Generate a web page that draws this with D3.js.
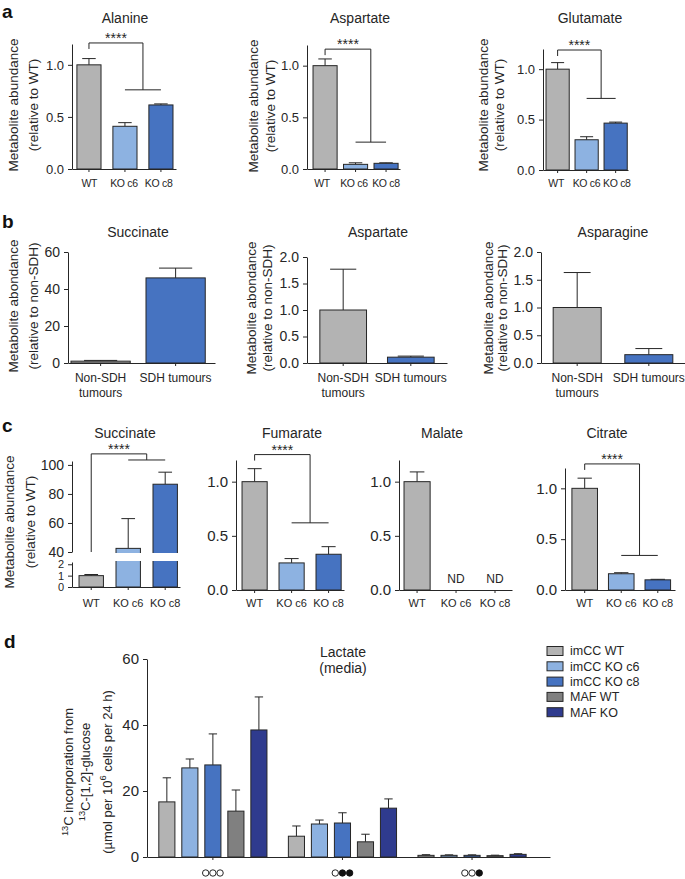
<!DOCTYPE html>
<html><head><meta charset="utf-8">
<script src="https://cdn.jsdelivr.net/npm/d3@7"></script>
<style>
body{margin:0;background:#fff;}
svg{display:block;font-family:"Liberation Sans",Arial,Helvetica,sans-serif;}
</style></head><body>
<svg id="fig" width="685" height="879"></svg>
<script>
// ---------------- DATA ----------------
const catsA = ["WT","KO c6","KO c8"];
const alanineMean = [1.0, 0.41, 0.615];
const alanineErr  = [0.06, 0.035, 0.01];
const aspartateAMean = [1.0, 0.045, 0.055];
const aspartateAErr  = [0.065, 0.015, 0.005];
const glutamateMean = [1.0, 0.30, 0.465];
const glutamateErr  = [0.065, 0.03, 0.01];
const bracketsA = [{top:1.21, low:0.76},{top:1.16, low:0.26},{top:1.19, low:0.71}];
const ticksA = [0, 0.5, 1.0];

const catsB = ["Non-SDH tumours","SDH tumours"];
const succinateBMean = [1.0, 46];
const succinateBErr  = [0.4, 5.3];
const aspartateBMean = [1.0, 0.11];
const aspartateBErr  = [0.77, 0.02];
const asparagineMean = [1.0, 0.15];
const asparagineErr  = [0.63, 0.11];
const ticksSuccB = [0, 20, 40, 60];
const ticksB = [0, 0.5, 1.0, 1.5, 2.0];

const succinateCMean = [1.0, 42.5, 86.7];
const succinateCErr  = [0.1, 20.5, 8.3];
const succTicksLow = [0, 1, 2];
const succTicksHigh = [40, 60, 80, 100];
const succBracket = {top:107.6, low:103.4, legTo:40};
const fumarateMean = [1.0, 0.25, 0.33];
const fumarateErr  = [0.12, 0.04, 0.07];
const malateMean = [1.0, null, null];
const malateErr  = [0.09, null, null];
const citrateMean = [1.0, 0.16, 0.10];
const citrateErr  = [0.10, 0.01, 0.005];
const bracketsC = {fumarate:{top:1.25, low:0.62}, citrate:{top:1.24, low:0.34}};

const dSeries = ["imCC WT","imCC KO c6","imCC KO c8","MAF WT","MAF KO"];
const dGroups = ["g1","g2","g3"];
const dPatterns = [[0,0,0],[0,1,1],[0,0,1]];   // 0 = open circle, 1 = filled
const dMeans = [
  [16.7, 6.3, 0.5],
  [27.0, 10.0, 0.5],
  [27.9, 10.3, 0.5],
  [13.9, 4.6, 0.4],
  [38.5, 14.8, 0.8]
];
const dErrs = [
  [7.3, 3.1, 0.2],
  [2.7, 1.2, 0.15],
  [9.4, 3.1, 0.15],
  [6.4, 2.3, 0.15],
  [10.0, 2.8, 0.2]
];
const ticksD = [0, 20, 40, 60];

// ---------------- STYLE ----------------
const INK = "#262626";
const C_WT = "#b3b3b3", C_C6 = "#8db2e1", C_C8 = "#4673c1", C_MAFWT = "#808080", C_MAFKO = "#2f3b8e";
const colA = [C_WT, C_C6, C_C8];
const colB = [C_WT, C_C8];
const colD = [C_WT, C_C6, C_C8, C_MAFWT, C_MAFKO];

const svg = d3.select("#fig");
svg.append("rect").attr("width",685).attr("height",879).attr("fill","#fff");

function styleAxis(sel, fs){
  sel.attr("font-family", null).attr("font-size", null);
  sel.select(".domain").attr("stroke", INK);
  sel.selectAll(".tick line").attr("stroke", INK);
  sel.selectAll(".tick text").attr("fill", INK).style("font-size", fs + "px");
}

function yTitle(lines, xs, cy, fs){
  lines.forEach((ln, i) => {
    const t = svg.append("text")
      .attr("transform", `translate(${xs[i]},${cy}) rotate(-90)`)
      .attr("text-anchor","middle").attr("dy","0.35em")
      .attr("fill", INK).style("font-size", fs + "px");
    let pend = 0;
    const shift = fs * 0.42;
    ln.forEach(part => {
      const sp = t.append("tspan").text(part.t);
      if (part.sup) {
        sp.attr("dy", (pend - shift)).style("font-size", (fs*0.72) + "px");
        pend = shift;
      } else {
        if (pend) sp.attr("dy", pend);
        pend = 0;
      }
    });
  });
}

function labelLines(d){
  return d === "Non-SDH tumours" ? ["Non-SDH","tumours"] : [d];
}

function panel(o){
  const g = svg.append("g");
  const x = d3.scaleBand().domain(o.cats).range([o.left, o.right])
    .paddingInner(o.pi).paddingOuter(o.po).align(o.align);
  const xl = d3.scaleBand().domain(o.cats).range(o.labelRange || [o.left, o.right]);
  const y = o.yScale || d3.scaleLinear().domain([0, o.max]).range([o.bottom, o.top]);
  const bw = x.bandwidth();
  const cx = c => x(c) + bw / 2;
  const lx = o.evenLabels ? (c => xl(c) + xl.bandwidth() / 2) : cx;
  const rows = o.cats.map((c, i) => ({c, v:o.means[i], e:o.errs[i], col:o.colors[i]})).filter(d => d.v != null);
  g.append("g").selectAll("path").data(rows).join("path")
    .attr("d", d => { const t = y(d.v + d.e), h = bw * 0.28; return `M${cx(d.c)},${y(d.v)}V${t}M${cx(d.c)-h},${t}H${cx(d.c)+h}`; })
    .attr("fill","none").attr("stroke", INK).attr("stroke-width", 1);
  g.append("g").selectAll("rect").data(rows).join("rect")
    .attr("x", d => x(d.c)).attr("y", d => y(d.v))
    .attr("width", bw).attr("height", d => y(0) - y(d.v))
    .attr("fill", d => d.col).attr("stroke", INK).attr("stroke-width", 1);
  if (o.afterBars) o.afterBars(g, x, y);
  const xa = g.append("g").attr("transform", `translate(0,${y(0)})`)
    .call(d3.axisBottom(x).tickSize(3).tickSizeOuter(0).tickFormat(""));
  styleAxis(xa, o.labelFs);
  if (!o.customY){
    const ya = g.append("g").attr("transform", `translate(${o.left},0)`)
      .call(d3.axisLeft(y).tickValues(o.ticks).tickFormat(o.fmt).tickSize(4).tickPadding(4).tickSizeOuter(0));
    styleAxis(ya, o.tickFs);
  }
  // category labels
  o.cats.forEach(c => {
    const t = g.append("text").attr("x", lx(c)).attr("y", o.labelY)
      .attr("text-anchor","middle").attr("fill", INK).style("font-size", o.labelFs + "px")
      .style("letter-spacing", (o.labelLs || 0) + "px");
    labelLines(c).forEach((ln, i) => t.append("tspan").attr("x", lx(c)).attr("dy", i ? o.lineH : 0).text(ln));
  });
  // title
  g.append("text").attr("x", o.titleX).attr("y", o.titleY).attr("text-anchor","middle")
    .attr("fill", INK).style("font-size", o.titleFs + "px").text(o.title);
  // significance bracket
  if (o.bracket){
    const b = o.bracket;
    const mid = (cx(o.cats[1]) + cx(o.cats[2])) / 2;
    const legEnd = b.legTo != null ? y(b.legTo) : y(b.top) + 6;
    g.append("path")
      .attr("d", `M${cx(o.cats[0])},${legEnd}V${y(b.top)}H${mid}V${y(b.low)}M${cx(o.cats[1])},${y(b.low)}H${cx(o.cats[2])}`)
      .attr("fill","none").attr("stroke", INK).attr("stroke-width", 1);
    g.append("text").attr("x", (cx(o.cats[0]) + mid) / 2).attr("y", y(b.top))
      .attr("text-anchor","middle").attr("fill", INK).style("font-size","14px").text("****");
  }
  return {g, x, y, cx};
}

function letter(t, x, y){
  svg.append("text").attr("x", x).attr("y", y).attr("fill","#111")
    .style("font-size","19px").style("font-weight","bold").text(t);
}

const f1 = d3.format(".1f"), fd = d3.format("d");
const yTitleWT = [[{t:"Metabolite abundance"}],[{t:"(relative to WT)"}]];
const yTitleSDH = [[{t:"Metabolite abondance"}],[{t:"(relative to non-SDH)"}]];

// ---------------- PANEL a ----------------
letter("a", 2, 18);
const commonA = {cats:catsA, colors:colA, ticks:ticksA, fmt:f1, tickFs:13, max:1.2,
  titleY:23, titleFs:14, labelY:187, labelFs:10.5, labelLs:-0.3, lineH:14, evenLabels:true};
panel({...commonA, means:alanineMean, errs:alanineErr, left:72, right:176, bottom:169, top:44,
  pi:.33, po:.11, align:.62, title:"Alanine", titleX:125, bracket:bracketsA[0]});
panel({...commonA, means:aspartateAMean, errs:aspartateAErr, left:307, right:400, bottom:169, top:45,
  pi:.21, po:.13, align:.76, title:"Aspartate", titleX:360, bracket:bracketsA[1], labelRange:[306, 402]});
panel({...commonA, means:glutamateMean, errs:glutamateErr, left:543, right:628, bottom:170, top:49,
  pi:.2, po:.065, align:.8, title:"Glutamate", titleX:590, bracket:bracketsA[2], labelRange:[541, 632]});
yTitle(yTitleWT, [13, 33], 105, 13.5);
yTitle(yTitleWT, [253, 270], 106, 13.5);
yTitle(yTitleWT, [483, 499], 105, 13.5);

// ---------------- PANEL b ----------------
letter("b", 2, 228);
const commonB = {cats:catsB, colors:colB, tickFs:14, titleY:237, titleFs:14, labelY:382, labelFs:12, lineH:15};
panel({...commonB, means:succinateBMean, errs:succinateBErr, ticks:ticksSuccB, fmt:fd, max:60,
  left:68, right:215, bottom:363, top:252, pi:.21, po:.085, align:.235, title:"Succinate", titleX:138});
panel({...commonB, means:aspartateBMean, errs:aspartateBErr, ticks:ticksB, fmt:f1, max:2.0,
  left:307, right:447, bottom:363, top:257, pi:.31, po:.19, align:.5, title:"Aspartate", titleX:378});
panel({...commonB, means:asparagineMean, errs:asparagineErr, ticks:ticksB, fmt:f1, max:2.0,
  left:541, right:685, bottom:363, top:252, pi:.33, po:.17, align:.5, title:"Asparagine", titleX:613});
yTitle(yTitleSDH, [13, 33], 306, 13.5);
yTitle(yTitleSDH, [251, 267], 308, 13.5);
yTitle(yTitleSDH, [488, 502], 308, 13.5);

// ---------------- PANEL c ----------------
letter("c", 2, 432);
const commonC = {cats:catsA, colors:colA, ticks:ticksA, fmt:f1, tickFs:15, max:1.2,
  titleY:438, titleFs:14, labelY:607, labelFs:11, lineH:14};
const yLow = d3.scaleLinear().domain([0, 2.2]).range([587, 562]);
const yHigh = d3.scaleLinear().domain([40, 102.7]).range([552, 461]);
const ySucc = d3.scaleLinear().domain([0, 2.2, 40, 102.7]).range([587, 562, 552, 461]);
panel({...commonC, means:succinateCMean, errs:succinateCErr, yScale:ySucc, customY:true,
  left:72, right:180, pi:.34, po:.13, align:.73, title:"Succinate", titleX:125, bracket:succBracket,
  afterBars:(g, x, y) => {
    g.append("rect").attr("x", 73).attr("y", 553).attr("width", 110).attr("height", 8).attr("fill","#fff");
  }});
const yaL = svg.append("g").attr("transform","translate(72,0)")
  .call(d3.axisLeft(yLow).tickValues(succTicksLow).tickFormat(fd).tickSize(4).tickPadding(4).tickSizeOuter(0));
styleAxis(yaL, 11);
const yaH = svg.append("g").attr("transform","translate(72,0)")
  .call(d3.axisLeft(yHigh).tickValues(succTicksHigh).tickFormat(fd).tickSize(4).tickPadding(4).tickSizeOuter(0));
styleAxis(yaH, 14);

panel({...commonC, means:fumarateMean, errs:fumarateErr, left:236, right:344, bottom:590, top:460,
  pi:.32, po:.12, align:.68, title:"Fumarate", titleX:292, bracket:bracketsC.fumarate});
const mal = panel({...commonC, means:malateMean, errs:malateErr, left:399, right:512, bottom:590, top:460,
  pi:.33, po:.115, align:.56, title:"Malate", titleX:442});
malateMean.forEach((v, i) => {
  if (v == null) svg.append("text").attr("x", mal.cx(catsA[i])).attr("y", 583)
    .attr("text-anchor","middle").attr("fill", INK).style("font-size","12px").text("ND");
});
panel({...commonC, means:citrateMean, errs:citrateErr, left:565, right:675, bottom:590, top:468,
  pi:.3, po:.155, align:.61, title:"Citrate", titleX:607, bracket:bracketsC.citrate});
yTitle(yTitleWT, [9, 30], 522, 13.5);

// ---------------- PANEL d ----------------
letter("d", 4, 648);
const yD = d3.scaleLinear().domain([0, 60]).range([857, 659]);
const xG = d3.scaleBand().domain(dGroups).range([147, 550]).paddingInner(.112).paddingOuter(.111).align(.29);
const xS = d3.scaleBand().domain(dSeries).range([0, xG.bandwidth()]).paddingInner(.3).paddingOuter(.15);
const gD = svg.append("g");
const dRows = [];
dSeries.forEach((s, si) => dGroups.forEach((gname, gi) =>
  dRows.push({s, g:gname, v:dMeans[si][gi], e:dErrs[si][gi], col:colD[si]})));
const sbw = xS.bandwidth();
gD.append("g").selectAll("path").data(dRows).join("path")
  .attr("d", d => { const c = xG(d.g) + xS(d.s) + sbw/2, t = yD(d.v + d.e), h = sbw*0.26;
    return `M${c},${yD(d.v)}V${t}M${c-h},${t}H${c+h}`; })
  .attr("fill","none").attr("stroke", INK);
gD.append("g").selectAll("rect").data(dRows).join("rect")
  .attr("x", d => xG(d.g) + xS(d.s)).attr("y", d => yD(d.v))
  .attr("width", sbw).attr("height", d => yD(0) - yD(d.v))
  .attr("fill", d => d.col).attr("stroke", INK);
const xaD = gD.append("g").attr("transform", `translate(0,${yD(0)})`)
  .call(d3.axisBottom(xG).tickSize(3).tickSizeOuter(0).tickFormat(""));
styleAxis(xaD, 12);
const yaD = gD.append("g").attr("transform","translate(147,0)")
  .call(d3.axisLeft(yD).tickValues(ticksD).tickFormat(fd).tickSize(4).tickPadding(4).tickSizeOuter(0));
styleAxis(yaD, 15);
// group symbols
dGroups.forEach((gname, gi) => {
  const c = xG(gname) + xG.bandwidth()/2;
  dPatterns[gi].forEach((p, k) => {
    gD.append("circle").attr("cx", c + (k - 1) * 7.2).attr("cy", 873).attr("r", 3.2)
      .attr("fill", p ? "#111" : "#fff").attr("stroke", "#111").attr("stroke-width", 0.9);
  });
});
// title
gD.append("text").attr("x", 343).attr("y", 657).attr("text-anchor","middle").attr("fill", INK)
  .style("font-size","14px").text("Lactate");
gD.append("text").attr("x", 343).attr("y", 673).attr("text-anchor","middle").attr("fill", INK)
  .style("font-size","14px").text("(media)");
// legend
dSeries.forEach((s, i) => {
  const yy = 651 + i * 15.3;
  gD.append("rect").attr("x", 547).attr("y", yy - 4.5).attr("width", 16).attr("height", 9)
    .attr("fill", colD[i]).attr("stroke", INK);
  gD.append("text").attr("x", 570).attr("y", yy).attr("dy","0.35em").attr("fill", INK)
    .style("font-size","12.5px").text(s);
});
yTitle([
  [{t:"13", sup:true},{t:"C incorporation from"}],
  [{t:"13", sup:true},{t:"C-[1,2]-glucose"}],
  [{t:"(µmol per 10"},{t:"6", sup:true},{t:" cells per 24 h)"}]
], [73, 90, 107], 772, 13);
</script>
</body></html>
